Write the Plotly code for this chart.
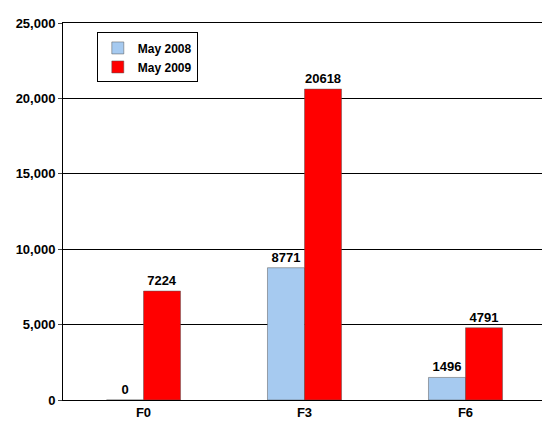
import plotly.graph_objects as go

categories = ["F0", "F3", "F6"]
may2008 = [0, 8771, 1496]
may2009 = [7224, 20618, 4791]
tickvals = [0, 5000, 10000, 15000, 20000, 25000]
ticktext = ["0", "5,000", "10,000", "15,000", "20,000", "25,000"]

font = dict(family="Liberation Sans", size=13, color="black")
fig = go.Figure()
fig.add_bar(x=categories, y=may2008, name="<b>May 2008</b>", marker=dict(color="#a6caf0", line=dict(color="#555", width=0.5)),
            text=[f"<b>{v}</b>" for v in may2008], textposition="outside", textfont=font, cliponaxis=False)
fig.add_bar(x=categories, y=may2009, name="<b>May 2009</b>", marker=dict(color="#ff0000", line=dict(color="#555", width=0.5)),
            text=[f"<b>{v}</b>" for v in may2009], textposition="outside", textfont=font, cliponaxis=False)
fig.update_layout(
    width=550, height=444, margin=dict(l=45, r=12, t=8, b=52),
    paper_bgcolor="white", plot_bgcolor="white", barmode="group", bargap=0.54, bargroupgap=0,
    font=font,
    legend=dict(x=0.07, y=0.975, xanchor="left", yanchor="top", bordercolor="black", borderwidth=1,
                font=dict(family="Liberation Sans", size=12), tracegroupgap=0, itemwidth=30),
    xaxis=dict(showline=True, linecolor="black", mirror=True, tickfont=dict(family="Liberation Sans", size=13),
               tickprefix="<b>", ticksuffix="</b>", ticks="outside", ticklen=0),
    yaxis=dict(range=[0, 25000], tickvals=tickvals, ticktext=[f"<b>{t}</b>" for t in ticktext],
               showgrid=True, gridcolor="black", gridwidth=1, showline=True, linecolor="black", mirror=True,
               ticks="outside", ticklen=4, zeroline=False),
)
fig.write_html("out.html")
